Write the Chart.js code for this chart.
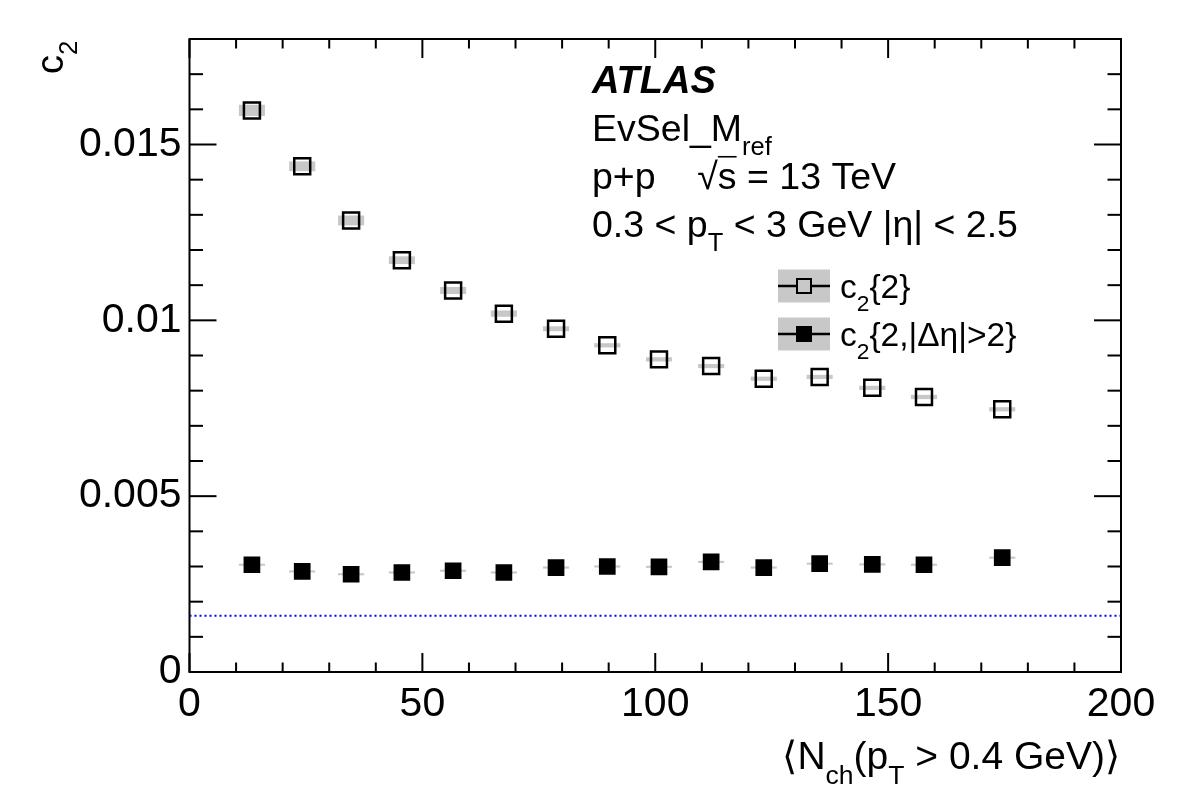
<!DOCTYPE html>
<html>
<head>
<meta charset="utf-8">
<title>ATLAS c2 vs Nch</title>
<script src="https://cdn.jsdelivr.net/npm/chart.js@4/dist/chart.umd.min.js"></script>
<style>
    html, body { margin: 0; padding: 0; background: #fff; }
    #wrap { width: 1182px; height: 800px; }
</style>
</head>
<body>
<div id="wrap"><canvas id="c2Chart" width="1182" height="800"></canvas></div>
<script>
// <Nch(pT > 0.4 GeV)> bin centres
const nch = [13.4, 24.2, 34.7, 45.6, 56.6, 67.5, 78.7, 89.7, 100.8, 112.0, 123.3, 135.3, 146.6, 157.7, 174.5];

// c2{2} (open squares) and its systematic half-height
const c2Std    = [0.01597, 0.01438, 0.01284, 0.01171, 0.01085, 0.01019, 0.00976, 0.00929, 0.00889, 0.00870, 0.00834, 0.00839, 0.00808, 0.00782, 0.00747];
const c2StdSys = [0.00016, 0.00014, 0.00014, 0.00011, 0.00010, 0.00009, 0.00007, 0.00006, 0.00006, 0.00006, 0.00006, 0.00006, 0.00006, 0.00006, 0.00006];

// c2{2,|deta|>2} (filled squares) and its systematic half-height
const c2Gap    = [0.00305, 0.00286, 0.00278, 0.00283, 0.00288, 0.00283, 0.00297, 0.00300, 0.00299, 0.00313, 0.00297, 0.00308, 0.00306, 0.00305, 0.00325];
const c2GapSys = [0.00003, 0.00003, 0.00003, 0.00003, 0.00003, 0.00003, 0.00003, 0.00003, 0.00003, 0.00003, 0.00003, 0.00003, 0.00003, 0.00003, 0.00003];

// blue dotted reference line
const refX = [0, 200];
const refY = [0.0016, 0.0016];

// axes
const xTicks = [0, 50, 100, 150, 200];
const yTicks = [0, 0.005, 0.01, 0.015];
const xMinorStep = 10;
const yMinorStep = 0.001;
const sysHalfWidth = 2.8; // width of the grey syst. boxes, in Nch units

const FONT = '"Liberation Sans", Arial, Helvetica, sans-serif';

function toPoints(xs, ys) {
    return xs.map((x, i) => ({ x: x, y: ys[i] }));
}

// draw text made of pieces, some of them subscripts
function drawRich(ctx, parts, x, y, size, align, weight) {
    weight = weight || '';
    let total = 0;
    parts.forEach(p => {
        const s = p.sub ? size * 0.68 : size;
        ctx.font = weight + ' ' + s + 'px ' + FONT;
        p.w = ctx.measureText(p.t).width;
        total += p.w;
    });
    let cx = align === 'right' ? x - total : x;
    ctx.textAlign = 'left';
    ctx.textBaseline = 'alphabetic';
    parts.forEach(p => {
        const s = p.sub ? size * 0.68 : size;
        ctx.font = weight + ' ' + s + 'px ' + FONT;
        const dy = p.sub ? size * 0.38 : 0;
        ctx.fillText(p.t, cx, y + dy);
        if (p.over) {
            ctx.lineWidth = 1.6;
            ctx.beginPath();
            ctx.moveTo(cx, y - size * 0.86);
            ctx.lineTo(cx + p.w, y - size * 0.86);
            ctx.stroke();
        }
        cx += p.w;
    });
}

// grey systematic boxes behind the markers
const sysBoxes = {
    id: 'sysBoxes',
    beforeDatasetsDraw(chart) {
        const { ctx, scales: { x, y } } = chart;
        ctx.save();
        ctx.fillStyle = '#c8c8c8';
        const sets = [[c2Std, c2StdSys], [c2Gap, c2GapSys]];
        sets.forEach(([vals, sys]) => {
            vals.forEach((v, i) => {
                const x0 = x.getPixelForValue(nch[i] - sysHalfWidth);
                const x1 = x.getPixelForValue(nch[i] + sysHalfWidth);
                const y0 = y.getPixelForValue(v + sys[i]);
                const y1 = y.getPixelForValue(v - sys[i]);
                ctx.fillRect(x0, y0, x1 - x0, y1 - y0);
            });
        });
        ctx.restore();
    }
};

// ROOT-style frame with inward ticks on all four sides
const axisFrame = {
    id: 'axisFrame',
    afterDraw(chart) {
        const { ctx, chartArea: a, scales: { x, y } } = chart;
        ctx.save();
        ctx.strokeStyle = '#000';
        ctx.lineWidth = 2;
        function seg(x0, y0, x1, y1) {
            ctx.beginPath();
            ctx.moveTo(x0, y0);
            ctx.lineTo(x1, y1);
            ctx.stroke();
        }
        const nx = Math.round((x.max - x.min) / xMinorStep);
        for (let i = 0; i <= nx; i++) {
            const v = x.min + i * xMinorStep;
            const px = x.getPixelForValue(v);
            const len = xTicks.includes(v) ? 19 : 9.5;
            seg(px, a.bottom, px, a.bottom - len);
            seg(px, a.top, px, a.top + len);
        }
        const ny = Math.round((y.max - y.min) / yMinorStep);
        for (let i = 0; i <= ny; i++) {
            const v = y.min + i * yMinorStep;
            const py = y.getPixelForValue(v);
            const len = (i % 5 === 0) ? 27 : 13.5;
            seg(a.left, py, a.left + len, py);
            seg(a.right, py, a.right - len, py);
        }
        ctx.strokeRect(a.left, a.top, a.right - a.left, a.bottom - a.top);
        ctx.restore();
    }
};

// ATLAS label, legend and axis titles
const annotations = {
    id: 'annotations',
    afterDraw(chart) {
        const ctx = chart.ctx;
        ctx.save();
        ctx.fillStyle = '#000';
        ctx.strokeStyle = '#000';

        drawRich(ctx, [{ t: 'ATLAS' }], 592, 93, 38, 'left', 'italic bold');
        drawRich(ctx, [{ t: 'EvSel_M' }, { t: 'ref', sub: true }], 592, 141, 37.5, 'left');
        drawRich(ctx, [{ t: 'p+p    \u221A' }, { t: 's', over: true }, { t: ' = 13 TeV' }], 592, 189, 37.5, 'left');
        drawRich(ctx, [{ t: '0.3 < p' }, { t: 'T', sub: true }, { t: ' < 3 GeV |\u03B7| < 2.5' }], 592, 237, 37.5, 'left');

        // legend
        const rows = [
            { cy: 286, filled: false, parts: [{ t: 'c' }, { t: '2', sub: true }, { t: '{2}' }] },
            { cy: 334, filled: true, parts: [{ t: 'c' }, { t: '2', sub: true }, { t: '{2,|\u0394\u03B7|>2}' }] }
        ];
        rows.forEach(r => {
            ctx.fillStyle = '#c8c8c8';
            ctx.fillRect(778, r.cy - 16.5, 52, 33);
            ctx.strokeStyle = '#000';
            ctx.lineWidth = 2.5;
            ctx.beginPath();
            ctx.moveTo(778, r.cy);
            ctx.lineTo(830, r.cy);
            ctx.stroke();
            if (r.filled) {
                ctx.fillStyle = '#000';
                ctx.fillRect(804 - 8, r.cy - 8, 16, 16);
            } else {
                ctx.fillStyle = '#c8c8c8';
                ctx.fillRect(804 - 7, r.cy - 7, 14, 14);
                ctx.lineWidth = 2;
                ctx.strokeRect(804 - 7, r.cy - 7, 14, 14);
            }
            ctx.fillStyle = '#000';
            drawRich(ctx, r.parts, 840, r.cy + 12, 33.5, 'left');
        });

        // x title
        drawRich(ctx, [{ t: '\u27E8N' }, { t: 'ch', sub: true }, { t: '(p' }, { t: 'T', sub: true }, { t: ' > 0.4 GeV)\u27E9' }],
            1120, 769, 39, 'right');

        // y title
        ctx.translate(63, 74);
        ctx.rotate(-Math.PI / 2);
        drawRich(ctx, [{ t: 'c' }, { t: '2', sub: true }], 0, 0, 38, 'left');
        ctx.restore();
    }
};

const ctx = document.getElementById('c2Chart').getContext('2d');
const c2Chart = new Chart(ctx, {
    type: 'scatter',
    data: {
        datasets: [{
            label: 'reference',
            type: 'line',
            data: toPoints(refX, refY),
            borderColor: '#0000ff',
            borderWidth: 2,
            borderDash: [2, 3],
            pointRadius: 0,
            fill: false
        }, {
            label: 'c2{2}',
            data: toPoints(nch, c2Std),
            pointStyle: 'rect',
            pointRadius: 11.3,
            borderColor: '#000',
            borderWidth: 2.5,
            backgroundColor: 'rgba(0,0,0,0)'
        }, {
            label: 'c2{2,|deta|>2}',
            data: toPoints(nch, c2Gap),
            pointStyle: 'rect',
            pointRadius: 11.8,
            borderWidth: 0,
            backgroundColor: '#000'
        }]
    },
    options: {
        responsive: false,
        animation: false,
        events: [],
        layout: { padding: { top: 39, right: 61, left: 0, bottom: 0 } },
        plugins: {
            legend: { display: false },
            tooltip: { enabled: false }
        },
        scales: {
            x: {
                type: 'linear',
                min: 0,
                max: 200,
                afterBuildTicks: s => { s.ticks = xTicks.map(v => ({ value: v })); },
                afterFit: s => { s.height = 128; },
                ticks: {
                    color: '#000',
                    font: { family: FONT, size: 41 },
                    padding: 0,
                    maxRotation: 0,
                    autoSkip: false
                },
                grid: { display: false },
                border: { display: false }
            },
            y: {
                type: 'linear',
                min: 0,
                max: 0.018,
                afterBuildTicks: s => { s.ticks = yTicks.map(v => ({ value: v })); },
                afterFit: s => { s.width = 189.5; },
                ticks: {
                    color: '#000',
                    font: { family: FONT, size: 41 },
                    padding: 0,
                    callback: v => String(+v.toFixed(4))
                },
                grid: { display: false },
                border: { display: false }
            }
        }
    },
    plugins: [sysBoxes, axisFrame, annotations]
});
</script>
</body>
</html>
